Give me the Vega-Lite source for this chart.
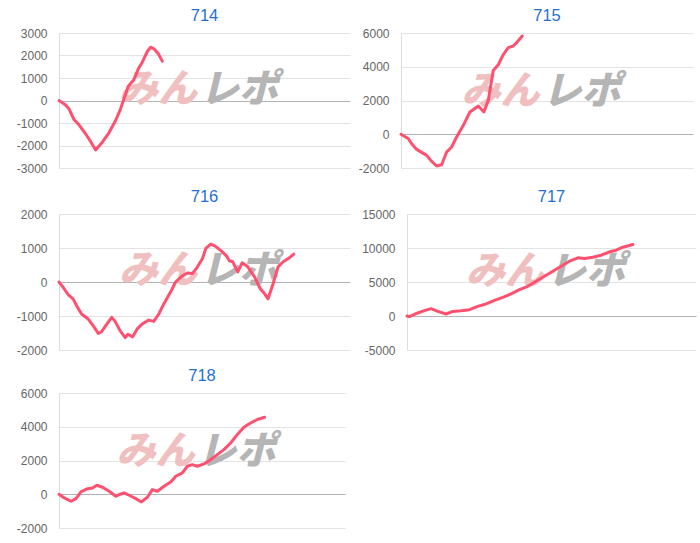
{
 "$schema": "https://vega.github.io/schema/vega-lite/v6.json",
 "padding": {"left": 15, "top": 7, "right": 5, "bottom": 3},
 "config": {
  "font": "Liberation Sans",
  "view": {"stroke": null},
  "axisY": {"title": null, "ticks": false, "labelPadding": 12, "labelFontSize": 12, "labelColor": "#666666", "domainColor": "#dddddd", "grid": true, "minExtent": 44, "maxExtent": 44, "tickCount": 12, "labelExpr": "'' + datum.value", "labelOverlap": false},
  "text": {"fontSize": 39, "fontWeight": 900, "fontStyle": "italic", "font": "Noto Sans CJK JP", "baseline": "middle"},
  "title": {"fontSize": 16.5, "fontWeight": "normal", "color": "#1f6fd1", "offset": 3, "font": "Liberation Sans"}
 },
 "datasets": {
  "d": [
   {"m":"714","g":0,"v":0},{"m":"714","g":186,"v":-178},{"m":"714","g":309,"v":-370},{"m":"714","g":464,"v":-844},{"m":"714","g":619,"v":-1080},{"m":"714","g":823,"v":-1480},{"m":"714","g":977,"v":-1822},{"m":"714","g":1132,"v":-2200},{"m":"714","g":1339,"v":-1852},{"m":"714","g":1546,"v":-1437},{"m":"714","g":1751,"v":-889},{"m":"714","g":1905,"v":-370},{"m":"714","g":2010,"v":74},{"m":"714","g":2143,"v":637},{"m":"714","g":2320,"v":933},{"m":"714","g":2453,"v":1407},{"m":"714","g":2577,"v":1704},{"m":"714","g":2731,"v":2178},{"m":"714","g":2833,"v":2370},{"m":"714","g":2938,"v":2296},{"m":"714","g":3071,"v":2074},{"m":"714","g":3195,"v":1750},
   {"m":"715","g":0,"v":0},{"m":"715","g":228,"v":-264},{"m":"715","g":329,"v":-560},{"m":"715","g":483,"v":-897},{"m":"715","g":791,"v":-1253},{"m":"715","g":945,"v":-1609},{"m":"715","g":1099,"v":-1882},{"m":"715","g":1253,"v":-1805},{"m":"715","g":1407,"v":-1052},{"m":"715","g":1561,"v":-756},{"m":"715","g":1714,"v":-163},{"m":"715","g":1921,"v":527},{"m":"715","g":2124,"v":1318},{"m":"715","g":2382,"v":1674},{"m":"715","g":2555,"v":1318},{"m":"715","g":2690,"v":2006},{"m":"715","g":2844,"v":3784},{"m":"715","g":2998,"v":4121},{"m":"715","g":3152,"v":4714},{"m":"715","g":3306,"v":5129},{"m":"715","g":3460,"v":5229},{"m":"715","g":3561,"v":5425},{"m":"715","g":3737,"v":5822},
   {"m":"716","g":0,"v":0},{"m":"716","g":125,"v":-150},{"m":"716","g":281,"v":-368},{"m":"716","g":436,"v":-496},{"m":"716","g":542,"v":-695},{"m":"716","g":698,"v":-941},{"m":"716","g":904,"v":-1090},{"m":"716","g":1060,"v":-1289},{"m":"716","g":1216,"v":-1515},{"m":"716","g":1322,"v":-1456},{"m":"716","g":1477,"v":-1238},{"m":"716","g":1633,"v":-1040},{"m":"716","g":1736,"v":-1158},{"m":"716","g":1892,"v":-1437},{"m":"716","g":2048,"v":-1634},{"m":"716","g":2132,"v":-1535},{"m":"716","g":2275,"v":-1615},{"m":"716","g":2413,"v":-1387},{"m":"716","g":2568,"v":-1238},{"m":"716","g":2774,"v":-1120},{"m":"716","g":2930,"v":-1158},{"m":"716","g":3086,"v":-941},{"m":"716","g":3242,"v":-644},{"m":"716","g":3450,"v":-297},{"m":"716","g":3606,"v":0},{"m":"716","g":3793,"v":166},{"m":"716","g":3971,"v":267},{"m":"716","g":4127,"v":247},{"m":"716","g":4283,"v":446},{"m":"716","g":4439,"v":692},{"m":"716","g":4541,"v":989},{"m":"716","g":4697,"v":1117},{"m":"716","g":4831,"v":1057},{"m":"716","g":5009,"v":921},{"m":"716","g":5187,"v":760},{"m":"716","g":5268,"v":624},{"m":"716","g":5374,"v":594},{"m":"716","g":5530,"v":297},{"m":"716","g":5664,"v":564},{"m":"716","g":5841,"v":446},{"m":"716","g":6047,"v":149},{"m":"716","g":6225,"v":-199},{"m":"716","g":6359,"v":-347},{"m":"716","g":6465,"v":-496},{"m":"716","g":6621,"v":-50},{"m":"716","g":6776,"v":446},{"m":"716","g":6932,"v":594},{"m":"716","g":7138,"v":722},{"m":"716","g":7263,"v":820},
   {"m":"717","g":0,"v":0},{"m":"717","g":75,"v":-100},{"m":"717","g":334,"v":442},{"m":"717","g":542,"v":782},{"m":"717","g":748,"v":1077},{"m":"717","g":957,"v":678},{"m":"717","g":1216,"v":295},{"m":"717","g":1424,"v":678},{"m":"717","g":1683,"v":782},{"m":"717","g":1945,"v":929},{"m":"717","g":2204,"v":1416},{"m":"717","g":2462,"v":1770},{"m":"717","g":2724,"v":2301},{"m":"717","g":2983,"v":2744},{"m":"717","g":3242,"v":3245},{"m":"717","g":3503,"v":3879},{"m":"717","g":3762,"v":4366},{"m":"717","g":4021,"v":5104},{"m":"717","g":4283,"v":5841},{"m":"717","g":4541,"v":6579},{"m":"717","g":4800,"v":7316},{"m":"717","g":5062,"v":8054},{"m":"717","g":5321,"v":8555},{"m":"717","g":5530,"v":8452},{"m":"717","g":5788,"v":8643},{"m":"717","g":6047,"v":8939},{"m":"717","g":6309,"v":9440},{"m":"717","g":6515,"v":9676},{"m":"717","g":6723,"v":10119},{"m":"717","g":7035,"v":10517},
   {"m":"718","g":0,"v":0},{"m":"718","g":166,"v":-219},{"m":"718","g":377,"v":-415},{"m":"718","g":534,"v":-261},{"m":"718","g":691,"v":136},{"m":"718","g":898,"v":332},{"m":"718","g":1055,"v":373},{"m":"718","g":1193,"v":533},{"m":"718","g":1369,"v":415},{"m":"718","g":1579,"v":178},{"m":"718","g":1790,"v":-119},{"m":"718","g":1947,"v":18},{"m":"718","g":2050,"v":77},{"m":"718","g":2207,"v":-59},{"m":"718","g":2418,"v":-261},{"m":"718","g":2594,"v":-456},{"m":"718","g":2782,"v":-178},{"m":"718","g":2939,"v":273},{"m":"718","g":3096,"v":178},{"m":"718","g":3306,"v":474},{"m":"718","g":3517,"v":729},{"m":"718","g":3674,"v":1067},{"m":"718","g":3881,"v":1262},{"m":"718","g":4038,"v":1659},{"m":"718","g":4195,"v":1754},{"m":"718","g":4352,"v":1659},{"m":"718","g":4562,"v":1796},{"m":"718","g":4773,"v":2050},{"m":"718","g":4980,"v":2347},{"m":"718","g":5190,"v":2643},{"m":"718","g":5401,"v":3040},{"m":"718","g":5608,"v":3532},{"m":"718","g":5818,"v":3970},{"m":"718","g":5975,"v":4166},{"m":"718","g":6132,"v":4326},{"m":"718","g":6289,"v":4462},{"m":"718","g":6468,"v":4563}
  ]
 },
 "spacing": 11,
 "vconcat": [
  {
   "spacing": 14,
   "vconcat": [
    {
     "spacing": 7,
     "hconcat": [
      {
       "width": 291, "height": 135, "title": "714",
       "layer": [
        {"data": {"values": [{}]}, "mark": {"type": "text", "text": "みん", "align": "right", "dx": -2, "color": "#f0c0c0"},
         "encoding": {"x": {"datum": 4330, "type": "quantitative", "scale": {"domain": [0, 9000]}, "axis": null}, "y": {"datum": 450, "type": "quantitative", "scale": {"domain": [-3000, 3000], "nice": false}}}},
        {"data": {"values": [{}]}, "mark": {"type": "text", "text": "レポ", "align": "left", "dx": 1, "color": "#b5b5b5"},
         "encoding": {"x": {"datum": 4330, "type": "quantitative", "scale": {"domain": [0, 9000]}, "axis": null}, "y": {"datum": 450, "type": "quantitative", "scale": {"domain": [-3000, 3000], "nice": false}}}},
        {"data": {"name": "d"}, "transform": [{"filter": "datum.m === '714'"}], "mark": {"type": "line", "color": "#ff5070", "strokeWidth": 3, "strokeJoin": "round", "strokeCap": "round"},
         "encoding": {"x": {"field": "g", "type": "quantitative", "scale": {"domain": [0, 9000]}, "axis": null},
          "y": {"field": "v", "type": "quantitative", "scale": {"domain": [-3000, 3000], "nice": false}, "axis": {"values": [-3000, -2000, -1000, 0, 1000, 2000, 3000], "tickCount": 12, "labelOverlap": false, "gridColor": {"condition": {"test": "datum.value === 0", "value": "#b3b3b3"}, "value": "#e3e3e3"}}}}}
       ]
      },
      {
       "width": 292, "height": 135, "title": "715",
       "layer": [
        {"data": {"values": [{}]}, "mark": {"type": "text", "text": "みん", "align": "right", "dx": -2, "color": "#f0c0c0"},
         "encoding": {"x": {"datum": 4330, "type": "quantitative", "scale": {"domain": [0, 9000]}, "axis": null}, "y": {"datum": 2500, "type": "quantitative", "scale": {"domain": [-2000, 6000], "nice": false}}}},
        {"data": {"values": [{}]}, "mark": {"type": "text", "text": "レポ", "align": "left", "dx": 1, "color": "#b5b5b5"},
         "encoding": {"x": {"datum": 4330, "type": "quantitative", "scale": {"domain": [0, 9000]}, "axis": null}, "y": {"datum": 2500, "type": "quantitative", "scale": {"domain": [-2000, 6000], "nice": false}}}},
        {"data": {"name": "d"}, "transform": [{"filter": "datum.m === '715'"}], "mark": {"type": "line", "color": "#ff5070", "strokeWidth": 3, "strokeJoin": "round", "strokeCap": "round"},
         "encoding": {"x": {"field": "g", "type": "quantitative", "scale": {"domain": [0, 9000]}, "axis": null},
          "y": {"field": "v", "type": "quantitative", "scale": {"domain": [-2000, 6000], "nice": false}, "axis": {"values": [-2000, 0, 2000, 4000, 6000], "tickCount": 12, "labelOverlap": false, "gridColor": {"condition": {"test": "datum.value === 0", "value": "#b3b3b3"}, "value": "#e3e3e3"}}}}}
       ]
      }
     ]
    },
    {
     "spacing": 11,
     "hconcat": [
      {
       "width": 291, "height": 136, "title": "716",
       "layer": [
        {"data": {"values": [{}]}, "mark": {"type": "text", "text": "みん", "align": "right", "dx": -2, "color": "#f0c0c0"},
         "encoding": {"x": {"datum": 4330, "type": "quantitative", "scale": {"domain": [0, 9000]}, "axis": null}, "y": {"datum": 330, "type": "quantitative", "scale": {"domain": [-2000, 2000], "nice": false}}}},
        {"data": {"values": [{}]}, "mark": {"type": "text", "text": "レポ", "align": "left", "dx": 1, "color": "#b5b5b5"},
         "encoding": {"x": {"datum": 4330, "type": "quantitative", "scale": {"domain": [0, 9000]}, "axis": null}, "y": {"datum": 330, "type": "quantitative", "scale": {"domain": [-2000, 2000], "nice": false}}}},
        {"data": {"name": "d"}, "transform": [{"filter": "datum.m === '716'"}], "mark": {"type": "line", "color": "#ff5070", "strokeWidth": 3, "strokeJoin": "round", "strokeCap": "round"},
         "encoding": {"x": {"field": "g", "type": "quantitative", "scale": {"domain": [0, 9000]}, "axis": null},
          "y": {"field": "v", "type": "quantitative", "scale": {"domain": [-2000, 2000], "nice": false}, "axis": {"values": [-2000, -1000, 0, 1000, 2000], "tickCount": 12, "labelOverlap": false, "gridColor": {"condition": {"test": "datum.value === 0", "value": "#b3b3b3"}, "value": "#e3e3e3"}}}}}
       ]
      },
      {
       "width": 289, "height": 136, "title": "717",
       "layer": [
        {"data": {"values": [{}]}, "mark": {"type": "text", "text": "みん", "align": "right", "dx": -2, "color": "#f0c0c0"},
         "encoding": {"x": {"datum": 4330, "type": "quantitative", "scale": {"domain": [0, 9000]}, "axis": null}, "y": {"datum": 6450, "type": "quantitative", "scale": {"domain": [-5000, 15000], "nice": false}}}},
        {"data": {"values": [{}]}, "mark": {"type": "text", "text": "レポ", "align": "left", "dx": 1, "color": "#b5b5b5"},
         "encoding": {"x": {"datum": 4330, "type": "quantitative", "scale": {"domain": [0, 9000]}, "axis": null}, "y": {"datum": 6450, "type": "quantitative", "scale": {"domain": [-5000, 15000], "nice": false}}}},
        {"data": {"name": "d"}, "transform": [{"filter": "datum.m === '717'"}], "mark": {"type": "line", "color": "#ff5070", "strokeWidth": 3, "strokeJoin": "round", "strokeCap": "round"},
         "encoding": {"x": {"field": "g", "type": "quantitative", "scale": {"domain": [0, 9000]}, "axis": null},
          "y": {"field": "v", "type": "quantitative", "scale": {"domain": [-5000, 15000], "nice": false}, "axis": {"values": [-5000, 0, 5000, 10000, 15000], "tickCount": 12, "labelOverlap": false, "minExtent": 45, "maxExtent": 45, "gridColor": {"condition": {"test": "datum.value === 0", "value": "#b3b3b3"}, "value": "#e3e3e3"}}}}}
       ]
      }
     ]
    }
   ]
  },
  {
   "width": 286, "height": 135, "title": "718",
   "layer": [
    {"data": {"values": [{}]}, "mark": {"type": "text", "text": "みん", "align": "right", "dx": -2, "color": "#f0c0c0"},
     "encoding": {"x": {"datum": 4330, "type": "quantitative", "scale": {"domain": [0, 9000]}, "axis": null}, "y": {"datum": 2500, "type": "quantitative", "scale": {"domain": [-2000, 6000], "nice": false}}}},
    {"data": {"values": [{}]}, "mark": {"type": "text", "text": "レポ", "align": "left", "dx": 1, "color": "#b5b5b5"},
     "encoding": {"x": {"datum": 4330, "type": "quantitative", "scale": {"domain": [0, 9000]}, "axis": null}, "y": {"datum": 2500, "type": "quantitative", "scale": {"domain": [-2000, 6000], "nice": false}}}},
    {"data": {"name": "d"}, "transform": [{"filter": "datum.m === '718'"}], "mark": {"type": "line", "color": "#ff5070", "strokeWidth": 3, "strokeJoin": "round", "strokeCap": "round"},
     "encoding": {"x": {"field": "g", "type": "quantitative", "scale": {"domain": [0, 9000]}, "axis": null},
      "y": {"field": "v", "type": "quantitative", "scale": {"domain": [-2000, 6000], "nice": false}, "axis": {"values": [-2000, 0, 2000, 4000, 6000], "tickCount": 12, "labelOverlap": false, "gridColor": {"condition": {"test": "datum.value === 0", "value": "#b3b3b3"}, "value": "#e3e3e3"}}}}}
   ]
  }
 ]
}
